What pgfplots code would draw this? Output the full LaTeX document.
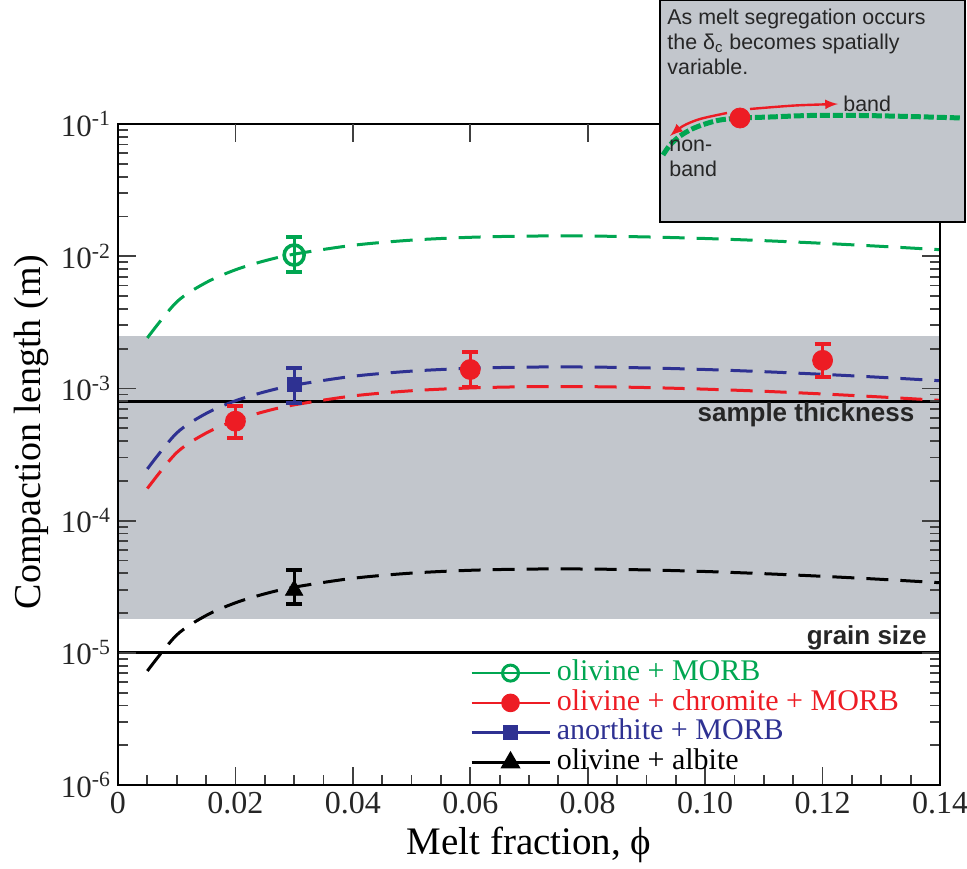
\documentclass[border=0pt]{standalone}
\usepackage{fontspec}
\setmainfont{Liberation Serif}
\setsansfont{Liberation Sans}
\usepackage{pgfplots}
\pgfplotsset{compat=1.18}
\definecolor{mgreen}{RGB}{0,166,81}
\definecolor{mred}{RGB}{237,28,36}
\definecolor{mblue}{RGB}{46,49,146}
\definecolor{bandgray}{RGB}{194,198,204}

\begin{document}
\begin{tikzpicture}
\useasboundingbox (-59pt,-41.5pt) rectangle (424.5pt,392.5pt);
\begin{axis}[
    at={(0pt,0pt)}, anchor=south west,
    scale only axis, width=411pt, height=330.5pt,
    xmin=0, xmax=0.14,
    ymode=log, ymin=1e-6, ymax=1e-1,
    axis on top, clip=false,
    axis line style={line width=1.3pt},
    tick align=inside,
    major tick length=9pt, minor tick length=5pt,
    every tick/.style={black!75, line width=0.9pt},
    xtick={0,0.02,0.04,0.06,0.08,0.10,0.12,0.14},
    xticklabels={0,0.02,0.04,0.06,0.08,0.10,0.12,0.14},
    minor x tick num=3,
    xtick pos=left,
    extra x ticks={0.02,0.04,0.06,0.08,0.10,0.12},
    extra x tick labels={},
    extra x tick style={xtick pos=right},
    ytick={1e-6,1e-5,1e-4,1e-3,1e-2,1e-1},
    yticklabels={10\textsuperscript{-6},10\textsuperscript{-5},10\textsuperscript{-4},10\textsuperscript{-3},10\textsuperscript{-2},10\textsuperscript{-1}},
    ytick pos=both,
    xticklabel style={font=\fontsize{16}{18}\selectfont, black!85},
    yticklabel style={font=\fontsize{15.5}{18}\selectfont, black!85},
    xlabel={Melt fraction, ϕ},
    ylabel={Compaction length (m)},
    xlabel style={font=\fontsize{19.5}{24}\selectfont, at={(axis description cs:0.5,-0.0908)}, anchor=center},
    ylabel style={font=\fontsize{19}{24}\selectfont, at={(axis description cs:-0.105,0.534)}, anchor=center},
    legend style={at={(0.428,0.192)}, anchor=north west, draw=none, fill=none,
        font=\fontsize{15}{16}\selectfont, inner sep=0pt, row sep=0.3pt,
        nodes={inner xsep=3pt, inner ysep=0.3pt, text height=10.6pt, text depth=3.4pt}},
    legend cell align=left,
    legend image code/.code={\draw[mark repeat=2, mark phase=2, #1] plot coordinates {(0pt,0pt) (19.5pt,0pt) (39pt,0pt)};},
]

% grey band of sample sizes
\addplot[fill=bandgray, draw=none, forget plot] coordinates {(0,1.8e-5) (0.14,1.8e-5) (0.14,2.5e-3) (0,2.5e-3)} -- cycle;

% sample thickness and grain size
\addplot[black, line width=1.5pt, forget plot] coordinates {(0,8e-4) (0.14,8e-4)};
\addplot[black, line width=1.5pt, forget plot] coordinates {(0,1e-5) (0.14,1e-5)};
\node[anchor=east, inner sep=0pt, font=\sffamily\bfseries\fontsize{13}{15}\selectfont, black!85] at (axis cs:0.1357,6.35e-4) {sample thickness};
\node[anchor=east, inner sep=0pt, font=\sffamily\bfseries\fontsize{13}{15}\selectfont, black!85] at (axis cs:0.1378,1.3e-5) {grain size};

% model curves
\pgfplotsset{curve/.style={line width=1.5pt, dash pattern=on 11pt off 6pt, smooth, forget plot}}
\addplot[curve, mgreen] coordinates {
 (0.005,2.41e-3) (0.01,4.51e-3) (0.015,6.32e-3) (0.02,7.89e-3) (0.025,9.23e-3)
 (0.03,1.036e-2) (0.04,1.209e-2) (0.05,1.323e-2) (0.06,1.390e-2) (0.07,1.420e-2)
 (0.08,1.421e-2) (0.09,1.399e-2) (0.10,1.361e-2) (0.11,1.311e-2) (0.12,1.252e-2)
 (0.13,1.187e-2) (0.14,1.120e-2)};
\addplot[curve, mblue] coordinates {
 (0.005,2.46e-4) (0.01,4.60e-4) (0.015,6.46e-4) (0.02,8.06e-4) (0.025,9.42e-4)
 (0.03,1.058e-3) (0.04,1.235e-3) (0.05,1.351e-3) (0.06,1.420e-3) (0.07,1.450e-3)
 (0.08,1.451e-3) (0.09,1.429e-3) (0.10,1.390e-3) (0.11,1.338e-3) (0.12,1.278e-3)
 (0.13,1.212e-3) (0.14,1.143e-3)};
\addplot[curve, mred] coordinates {
 (0.005,1.75e-4) (0.01,3.27e-4) (0.015,4.59e-4) (0.02,5.72e-4) (0.025,6.69e-4)
 (0.03,7.51e-4) (0.04,8.77e-4) (0.05,9.60e-4) (0.06,1.008e-3) (0.07,1.030e-3)
 (0.08,1.031e-3) (0.09,1.015e-3) (0.10,9.87e-4) (0.11,9.51e-4) (0.12,9.08e-4)
 (0.13,8.61e-4) (0.14,8.12e-4)};
\addplot[curve, black] coordinates {
 (0.005,7.29e-6) (0.01,1.364e-5) (0.015,1.915e-5) (0.02,2.389e-5) (0.025,2.794e-5)
 (0.03,3.137e-5) (0.04,3.662e-5) (0.05,4.008e-5) (0.06,4.210e-5) (0.07,4.300e-5)
 (0.08,4.302e-5) (0.09,4.237e-5) (0.10,4.122e-5) (0.11,3.969e-5) (0.12,3.791e-5)
 (0.13,3.596e-5) (0.14,3.390e-5)};

% measured values
\pgfplotsset{meas/.style={only marks, forget plot,
    error bars/y dir=both, error bars/y explicit,
    error bars/error bar style={line width=1.5pt},
    error bars/error mark options={rotate=90, mark size=4pt, line width=2pt}}}
\addplot[meas, mgreen, mark=o, mark size=5pt, mark options={fill=white, line width=1.8pt}] coordinates {
 (0.03,1.02e-2) += (0,0.37e-2) -= (0,0.26e-2)};
\addplot[meas, mblue, mark=square*, mark size=3.6pt] coordinates {
 (0.03,1.07e-3) += (0,0.35e-3) -= (0,0.29e-3)};
\addplot[meas, mred, mark=*, mark size=5pt] coordinates {
 (0.02,5.65e-4) += (0,1.7e-4) -= (0,1.4e-4)
 (0.06,1.39e-3) += (0,0.48e-3) -= (0,0.37e-3)
 (0.12,1.63e-3) += (0,0.55e-3) -= (0,0.42e-3)};
\addplot[meas, black, mark=triangle*, mark size=5pt] coordinates {
 (0.03,2.97e-5) += (0,1.23e-5) -= (0,0.62e-5)};

\addlegendimage{mgreen, line width=1.3pt, mark=o, mark size=4pt, mark options={fill=white, line width=1.5pt}}
\addlegendentry[text=mgreen]{olivine + MORB}
\addlegendimage{mred, line width=1.3pt, mark=*, mark size=4pt}
\addlegendentry[text=mred]{olivine + chromite + MORB}
\addlegendimage{mblue, line width=1.3pt, mark=square*, mark size=3.2pt}
\addlegendentry[text=mblue]{anorthite + MORB}
\addlegendimage{black, line width=1.3pt, mark=triangle*, mark size=4.5pt}
\addlegendentry[text=black]{olivine + albite}
\end{axis}

% inset sketch
\begin{axis}[
    at={(271pt,281.5pt)}, anchor=south west,
    scale only axis, width=152.5pt, height=111pt,
    xmin=660, xmax=965, ymin=0, ymax=222, y dir=reverse,
    xtick=\empty, ytick=\empty, clip=false,
    axis background/.style={fill=bandgray},
    axis line style={line width=1.3pt},
]
\addplot[mgreen, line width=2.5pt, dash pattern=on 5pt off 1.5pt, smooth] coordinates {
 (663,155) (670,145) (680,136) (692,129) (705,124) (720,120) (740,118) (770,117)
 (810,115.5) (860,115.5) (910,116.5) (962,118)};
\addplot[mred, line width=1.2pt, -latex, smooth] coordinates {(750,109) (795,105.5) (838,104)};
\addplot[mred, line width=1.2pt, -latex, smooth] coordinates {(727,113) (700,119) (683,126) (670,136)};
\addplot[mred, only marks, mark=*, mark size=5pt] coordinates {(740,118)};
\node[anchor=north west, inner sep=0pt, align=left, font=\sffamily\fontsize{10.7}{12.4}\selectfont, black!85]
  at (axis cs:667,9) {As melt segregation occurs\\the δ\textsubscript{c} becomes spatially\\variable.};
\node[anchor=west, inner sep=0pt, font=\sffamily\fontsize{10.7}{12.4}\selectfont, black!85] at (axis cs:843,104) {band};
\node[anchor=west, inner sep=0pt, align=left, font=\sffamily\fontsize{10.7}{12.4}\selectfont, black!85]
  at (axis cs:669,158) {non-\\band};
\end{axis}
\end{tikzpicture}
\end{document}
